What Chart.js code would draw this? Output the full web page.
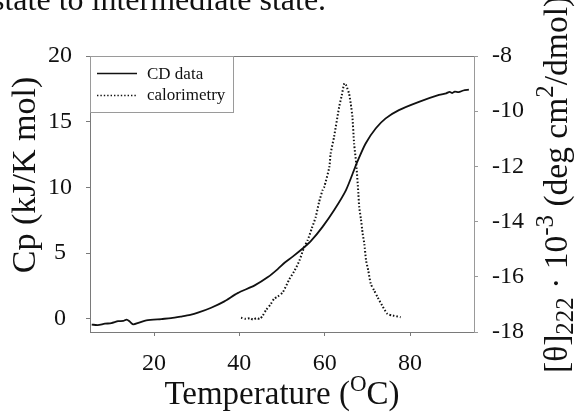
<!DOCTYPE html>
<html>
<head>
<meta charset="utf-8">
<script src="https://cdn.jsdelivr.net/npm/chart.js@4.4.0/dist/chart.umd.min.js"></script>
<style>
  html, body { margin: 0; padding: 0; background: #fff; }
  #wrap { position: relative; width: 576px; height: 414px; overflow: hidden; }
  #above { position: absolute; left: -8px; top: -17px; font: 32px "Liberation Serif", serif; line-height: 32px; white-space: nowrap; color: #111; }
  canvas { position: absolute; left: 0; top: 0; }
</style>
</head>
<body>
<div id="wrap">
  <canvas id="fig" width="576" height="414"></canvas>
  <div id="above">state to intermediate state.</div>
</div>
<script>
// CD signal (right axis, [θ]222 · 10^-3)
const cdTemp  = [5.4, 6.8, 8.5, 10.0, 11.6, 12.8, 13.6, 14.3, 15.1, 16.5, 18.2, 21.7, 24.0, 26.4, 28.5, 30.3, 33.4, 36.5, 39.6, 43.6, 46.7, 49.0, 50.6, 52.5, 55.2, 56.8, 59.5, 62.2, 65.0, 67.5, 69.6, 72.0, 74.3, 77.4, 82.1, 86.8, 88.5, 89.3, 89.9, 90.5, 91.4, 92.5, 93.8];
const cdTheta = [-17.73, -17.75, -17.70, -17.68, -17.61, -17.60, -17.55, -17.62, -17.72, -17.66, -17.58, -17.53, -17.50, -17.44, -17.38, -17.30, -17.12, -16.89, -16.59, -16.31, -16.01, -15.72, -15.49, -15.27, -14.93, -14.70, -14.19, -13.59, -12.86, -11.89, -11.17, -10.62, -10.26, -9.96, -9.66, -9.41, -9.35, -9.30, -9.34, -9.29, -9.31, -9.25, -9.22];

// calorimetry (left axis, Cp)
const calTemp = [40.4, 41.5, 42.5, 43.2, 44.0, 44.8, 45.5, 46.3, 47.4, 48.2, 49.0, 50.2, 51.7, 53.0, 54.1, 55.2, 56.0, 57.0, 57.9, 58.7, 59.5, 59.9, 61.1, 61.4, 62.2, 63.4, 64.0, 64.6, 65.0, 65.7, 66.1, 66.5, 66.9, 67.4, 67.9, 68.1, 68.5, 68.9, 69.3, 69.7, 70.2, 70.8, 71.6, 72.4, 73.5, 74.7, 76.0, 77.8];
const calCp   = [0.08, 0.0, 0.05, -0.05, 0.05, 0.0, 0.25, 0.69, 1.14, 1.55, 1.7, 2.03, 3.0, 3.7, 4.45, 5.46, 5.97, 6.9, 7.75, 8.9, 9.78, 10.03, 11.56, 12.58, 13.85, 16.13, 17.0, 17.92, 17.8, 17.16, 16.4, 15.37, 13.34, 11.8, 9.53, 8.5, 7.6, 6.5, 5.7, 4.45, 3.7, 2.67, 2.16, 1.65, 1.0, 0.38, 0.25, 0.13];

const xTicks  = [20, 40, 60, 80];
const cpTicks = [0, 5, 10, 15, 20];
const cdTicks = [-18, -16, -14, -12, -10, -8];

const legendLabels = ['CD data', 'calorimetry'];

const serif = '"Liberation Serif", "Times New Roman", serif';
const axisGray = '#7a7a7a';

function fixTicks(list) {
  return function (scale) { scale.ticks = list.map(v => ({ value: v })); };
}

const extras = {
  id: 'extras',
  afterDraw(chart) {
    const ctx = chart.ctx;
    const a = chart.chartArea;
    ctx.save();

    // top edge of the frame
    ctx.strokeStyle = axisGray;
    ctx.lineWidth = 1;
    ctx.beginPath();
    ctx.moveTo(a.left, a.top + 0.5);
    ctx.lineTo(a.right, a.top + 0.5);
    ctx.stroke();

    // legend box
    ctx.fillStyle = '#fff';
    ctx.strokeStyle = '#9a9a9a';
    ctx.fillRect(a.left + 0.5, a.top + 0.5, 143, 56);
    ctx.strokeRect(a.left + 0.5, a.top + 0.5, 143, 56);

    ctx.strokeStyle = '#111';
    ctx.lineWidth = 1.7;
    ctx.beginPath();
    ctx.moveTo(a.left + 7, a.top + 17.5);
    ctx.lineTo(a.left + 47, a.top + 17.5);
    ctx.stroke();
    ctx.setLineDash([1.4, 2]);
    ctx.lineWidth = 1.4;
    ctx.beginPath();
    ctx.moveTo(a.left + 7, a.top + 39.5);
    ctx.lineTo(a.left + 47, a.top + 39.5);
    ctx.stroke();
    ctx.setLineDash([]);

    ctx.fillStyle = '#111';
    ctx.font = '17px ' + serif;
    ctx.textAlign = 'left';
    ctx.textBaseline = 'alphabetic';
    ctx.fillText(legendLabels[0], a.left + 57, a.top + 23);
    ctx.fillText(legendLabels[1], a.left + 57, a.top + 44);

    // left axis title
    ctx.save();
    ctx.translate(35, 175);
    ctx.rotate(-Math.PI / 2);
    ctx.font = '34px ' + serif;
    ctx.textAlign = 'center';
    ctx.fillText('Cp (kJ/K mol)', 0, 0);
    ctx.restore();

    // bottom axis title with superscript
    const big = '33px ' + serif, small = '23px ' + serif;
    const xParts = [['Temperature (', big, 0], ['O', small, -13], ['C)', big, 0]];
    let total = 0;
    xParts.forEach(p => { ctx.font = p[1]; total += ctx.measureText(p[0]).width; });
    let cx = (a.left + a.right) / 2 - total / 2;
    xParts.forEach(p => {
      ctx.font = p[1];
      ctx.fillText(p[0], cx, 404 + p[2]);
      cx += ctx.measureText(p[0]).width;
    });

    // right axis title, rotated, with sub/superscripts
    ctx.save();
    ctx.translate(567, 373);
    ctx.rotate(-Math.PI / 2);
    const rBig = '33.5px ' + serif, rSmall = '25px ' + serif;
    const rParts = [['[θ]', rBig, 0], ['222', rSmall, 6], [' · 10', rBig, 0], ['-3', rSmall, -14],
                    [' (deg cm', rBig, 0], ['2', rSmall, -14], ['/dmol)', rBig, 0]];
    let tx = 0;
    rParts.forEach(p => {
      ctx.font = p[1];
      ctx.fillText(p[0], tx, p[2]);
      tx += ctx.measureText(p[0]).width;
    });
    ctx.restore();

    ctx.restore();
  }
};

new Chart(document.getElementById('fig'), {
  type: 'line',
  data: {
    datasets: [{
      label: legendLabels[0],
      data: cdTemp.map((t, i) => ({ x: t, y: cdTheta[i] })),
      yAxisID: 'y2',
      borderColor: '#111',
      borderWidth: 1.8,
      pointRadius: 0,
      tension: 0.25,
      fill: false
    }, {
      label: legendLabels[1],
      data: calTemp.map((t, i) => ({ x: t, y: calCp[i] })),
      yAxisID: 'y',
      borderColor: '#111',
      borderWidth: 2,
      borderDash: [1.5, 2],
      pointRadius: 0,
      tension: 0.2,
      fill: false
    }]
  },
  options: {
    responsive: false,
    animation: false,
    layout: { padding: { top: 56, left: 0, right: 0, bottom: 0 } },
    scales: {
      x: {
        type: 'linear',
        min: 5,
        max: 95,
        afterBuildTicks: fixTicks(xTicks),
        afterFit: s => { s.height = 82; },
        grid: { drawOnChartArea: false, tickLength: 4, color: axisGray },
        border: { color: axisGray, width: 1 },
        ticks: { color: '#111', padding: 13, maxRotation: 0, font: { family: serif, size: 24 } }
      },
      y: {
        position: 'left',
        min: -1,
        max: 20,
        afterBuildTicks: fixTicks(cpTicks),
        afterFit: s => { s.width = 90; },
        grid: { drawOnChartArea: false, tickLength: 4, color: axisGray },
        border: { color: axisGray, width: 1 },
        ticks: { color: '#111', padding: 14, crossAlign: 'center', font: { family: serif, size: 24 } }
      },
      y2: {
        position: 'right',
        min: -18,
        max: -8,
        afterBuildTicks: fixTicks(cdTicks),
        afterFit: s => { s.width = 102; },
        grid: { drawOnChartArea: false, tickLength: 4, color: '#999' },
        border: { color: '#999', width: 1 },
        ticks: { color: '#111', padding: 14, font: { family: serif, size: 24 } }
      }
    },
    plugins: {
      legend: { display: false },
      tooltip: { enabled: false }
    }
  },
  plugins: [extras]
});
</script>
</body>
</html>
